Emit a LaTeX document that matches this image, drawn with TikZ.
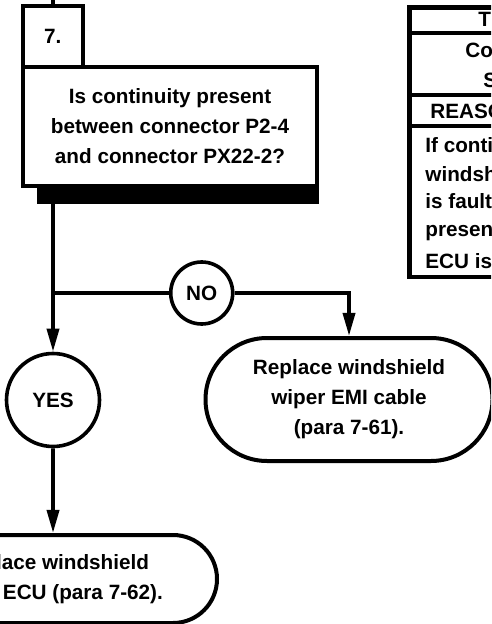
\documentclass[tikz,border=0pt]{standalone}
\usepackage{fontspec}
\setmainfont{Liberation Sans}
\usetikzlibrary{arrows.meta,shapes.misc}
\newcommand{\flowfont}{\fontsize{10.35}{15}\selectfont\bfseries}
\tikzset{
  line/.style={line width=1.8pt},
  flow/.style={line width=1.8pt,-{Triangle[length=11.5pt,width=6pt]}},
  stepbox/.style={draw,line width=2pt,fill=white,minimum width=30pt,minimum height=30.5pt,inner sep=0pt},
  askbox/.style={draw,line width=2pt,fill=white,align=center,minimum width=147pt,minimum height=59.5pt,inner sep=0pt},
  answer/.style={draw,circle,line width=1.8pt,fill=white,inner sep=0pt},
  action/.style={draw,rounded rectangle,line width=2pt,fill=white,align=center,inner sep=0pt},
  rule/.style={line width=2pt},
  cell/.style={anchor=west,inner sep=0pt}
}
\begin{document}
\begin{tikzpicture}[x=0.5pt,y=-0.5pt,font=\flowfont]
  \useasboundingbox (0,0) rectangle (491,624);
  \clip (0,0) rectangle (491,624);
  % question box with its shadow
  \fill (37,184) rectangle (319,204);
  \node[askbox] (ask) at (170,126.5) {Is continuity present\\between connector P2-4\\and connector PX22-2?};
  \node[stepbox] (step) at (52.7,36.5) {7.};
  % answers
  \node[answer,minimum size=31pt] (no) at (201.7,293) {NO};
  \node[answer,minimum size=46.5pt] (yes) at (53,400) {YES};
  \node[action,minimum width=143.5pt,minimum height=61.5pt] (wiper) at (349,399.5) {Replace windshield\\wiper EMI cable\\(para 7-61).};
  \node[action,minimum width=164pt,minimum height=44pt] (ecu) at (53,579) {Replace windshield\\wiper ECU (para 7-62).};
  % connectors
  \coordinate (top) at (53,0);
  \coordinate (out) at (53,204);
  \coordinate (split) at (53,293);
  \coordinate (bend) at (349,293);
  \draw[line] (top) -- (step);
  \draw[flow] (out) -- (yes);
  \draw[line] (split) -- (no);
  \draw[flow] (no) -- (bend) -- (wiper);
  \draw[flow] (yes) -- (ecu);
  % table at the right
  \draw[line width=2.2pt] (409.5,7.5) rectangle (560,277);
  \foreach \y in {33,95,126}
    \draw[rule] (409.5,\y) -- (560,\y);
  \node[cell] (head) at (478,19) {T};
  \node[cell] (cond) at (465,50) {Con};
  \node[cell] (sub) at (483,80) {S};
  \node[cell] (why) at (430,111) {REASON};
  \node[cell] (r1) at (425,145) {If contin};
  \node[cell] (r2) at (425,174) {windshi};
  \node[cell] (r3) at (425,203) {is faulty};
  \node[cell] (r4) at (425,232) {present};
  \node[cell] (r5) at (425,261) {ECU is};
\end{tikzpicture}
\end{document}
